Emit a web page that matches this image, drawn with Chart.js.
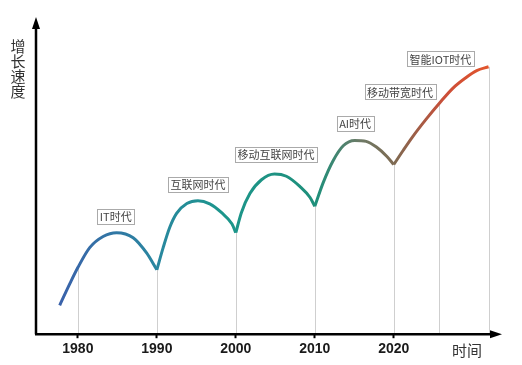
<!DOCTYPE html>
<html>
<head>
<meta charset="utf-8">
<script src="https://cdn.jsdelivr.net/npm/chart.js@4/dist/chart.umd.min.js"></script>
<style>
  html, body { margin: 0; padding: 0; background: #fff; }
  #wrap { width: 522px; height: 365px; }
</style>
</head>
<body>
<div id="wrap"><canvas id="growthChart" width="522" height="365"></canvas></div>
<script>
// 各时代曲线（年份 / 增长速度）
const itYears = [1977.7, 1979.0, 1980, 1981.5, 1983.2, 1984.9, 1987.0, 1988.7, 1990];
const itValues = [9.1, 16.0, 21.0, 27.3, 30.8, 32.0, 30.4, 25.6, 20.3];
const internetYears = [1990, 1990.8, 1991.65, 1992.5, 1993.8, 1995.2, 1996.7, 1998.2, 1999.5, 2000];
const internetValues = [20.3, 27.3, 33.8, 38.1, 41.2, 42.1, 41.1, 38.3, 34.8, 32.0];
const mobileYears = [2000, 2000.7, 2001.8, 2003.25, 2004.9, 2006.4, 2008.1, 2009.4, 2010];
const mobileValues = [32.0, 38.3, 44.4, 48.7, 50.5, 49.8, 46.6, 43.1, 40.3];
const aiYears = [2010, 2011.05, 2012.3, 2013.6, 2015.05, 2016.5, 2017.8, 2019.1, 2020];
const aiValues = [40.3, 47.7, 54.6, 59.4, 61.1, 60.8, 59.0, 56.1, 53.5];
const iotYears = [2020, 2021.2, 2022.4, 2024.1, 2025.8, 2027.5, 2029.2, 2030.5, 2032];
const iotValues = [53.5, 58.0, 62.3, 67.8, 72.9, 77.6, 81.0, 83.1, 84.3];

// 垂直参考线
const dropYears = [1980, 1990, 2000, 2010, 2020, 2025.7, 2032];
const dropValues = [21.0, 20.3, 32.0, 40.3, 53.5, 72.6, 84.3];

// 时代标签
const eraNames = ['IT时代', '互联网时代', '移动互联网时代', 'AI时代', '移动带宽时代', '智能IOT时代'];
const eraYears = [1984.8, 1995.2, 2005.1, 2015.1, 2020.8, 2025.9];
const eraValues = [37.1, 47.2, 56.6, 66.4, 76.4, 86.8];

const tickYears = [1980, 1990, 2000, 2010, 2020];

const cjkFont = '"Noto Sans CJK SC", "Noto Sans", sans-serif';

function toPoints(xs, ys) {
    return xs.map((x, i) => ({ x: x, y: ys[i] }));
}

// 曲线颜色渐变：蓝 -> 青 -> 灰褐 -> 橙红
function curveGradient(context) {
    const chart = context.chart;
    const area = chart.chartArea;
    if (!area) return '#1a9a8a';
    const xs = chart.scales.x;
    const x0 = xs.getPixelForValue(1977.7);
    const x1 = xs.getPixelForValue(2032);
    const g = chart.ctx.createLinearGradient(x0, 0, x1, 0);
    g.addColorStop(0, '#3a62aa');
    g.addColorStop(0.22, '#2a86a0');
    g.addColorStop(0.38, '#1c968c');
    g.addColorStop(0.6, '#1f8f7a');
    g.addColorStop(0.7, '#6d7a66');
    g.addColorStop(0.78, '#7e6a52');
    g.addColorStop(0.9, '#cc4e38');
    g.addColorStop(1, '#e2552c');
    return g;
}

function lineDataset(xs, ys) {
    return {
        data: toPoints(xs, ys),
        borderColor: curveGradient,
        borderWidth: 3,
        fill: false,
        pointRadius: 0,
        cubicInterpolationMode: 'monotone'
    };
}

// 手绘坐标轴、箭头、参考线和标签
const decorPlugin = {
    id: 'decor',
    beforeDatasetsDraw(chart) {
        const c = chart.ctx;
        const xs = chart.scales.x;
        const ys = chart.scales.y;
        c.save();
        c.strokeStyle = '#cfcfcf';
        c.lineWidth = 1;
        dropYears.forEach((yr, i) => {
            const px = Math.round(xs.getPixelForValue(yr)) + 0.5;
            c.beginPath();
            c.moveTo(px, ys.getPixelForValue(dropValues[i]));
            c.lineTo(px, ys.getPixelForValue(0));
            c.stroke();
        });
        c.restore();
    },
    afterDraw(chart) {
        const c = chart.ctx;
        const area = chart.chartArea;
        const xs = chart.scales.x;
        const ys = chart.scales.y;
        const left = area.left;
        const bottom = area.bottom;
        c.save();
        c.strokeStyle = '#000';
        c.fillStyle = '#000';
        c.lineWidth = 2.5;
        // y 轴
        c.beginPath();
        c.moveTo(left, bottom);
        c.lineTo(left, area.top + 10);
        c.stroke();
        c.beginPath();
        c.moveTo(left, area.top);
        c.lineTo(left - 4, area.top + 12);
        c.lineTo(left + 4, area.top + 12);
        c.closePath();
        c.fill();
        // x 轴
        c.beginPath();
        c.moveTo(left - 1, bottom);
        c.lineTo(area.right - 10, bottom);
        c.stroke();
        c.beginPath();
        c.moveTo(area.right, bottom);
        c.lineTo(area.right - 12, bottom - 4);
        c.lineTo(area.right - 12, bottom + 4);
        c.closePath();
        c.fill();

        // 轴标题
        c.fillStyle = '#333';
        c.font = '15px ' + cjkFont;
        c.textAlign = 'center';
        c.textBaseline = 'middle';
        ['增', '长', '速', '度'].forEach((ch, i) => {
            c.fillText(ch, 18, 46 + i * 15);
        });
        c.fillText('时间', 467, 350);

        // 时代标签
        c.font = '11px ' + cjkFont;
        eraNames.forEach((name, i) => {
            const cx = xs.getPixelForValue(eraYears[i]);
            const cy = ys.getPixelForValue(eraValues[i]);
            const w = c.measureText(name).width + 5;
            const h = 15;
            c.fillStyle = '#fff';
            c.fillRect(cx - w / 2, cy - h / 2, w, h);
            c.strokeStyle = '#aaa';
            c.lineWidth = 1;
            c.strokeRect(Math.round(cx - w / 2) + 0.5, Math.round(cy - h / 2) + 0.5, Math.round(w), h);
            c.fillStyle = '#444';
            c.fillText(name, cx, cy + 0.5);
        });
        c.restore();
    }
};

new Chart(document.getElementById('growthChart'), {
    type: 'line',
    data: {
        datasets: [
            lineDataset(itYears, itValues),
            lineDataset(internetYears, internetValues),
            lineDataset(mobileYears, mobileValues),
            lineDataset(aiYears, aiValues),
            lineDataset(iotYears, iotValues)
        ]
    },
    options: {
        responsive: false,
        animation: false,
        layout: {
            padding: { left: 36, right: 20, top: 17, bottom: 4 }
        },
        plugins: {
            legend: { display: false },
            tooltip: { enabled: false }
        },
        scales: {
            x: {
                type: 'linear',
                min: 1974.7,
                max: 2033.7,
                afterBuildTicks: function(axis) {
                    axis.ticks = tickYears.map(v => ({ value: v }));
                },
                grid: {
                    drawOnChartArea: false,
                    drawTicks: true,
                    tickLength: 4,
                    tickWidth: 2,
                    tickColor: '#000'
                },
                border: { display: false },
                ticks: {
                    color: '#1a1a1a',
                    padding: 3,
                    maxRotation: 0,
                    font: { family: '"Liberation Sans", Arial, sans-serif', size: 14, weight: 'bold' },
                    callback: function(value) { return String(value); }
                }
            },
            y: {
                display: false,
                min: 0,
                max: 100
            }
        }
    },
    plugins: [decorPlugin]
});
</script>
</body>
</html>
